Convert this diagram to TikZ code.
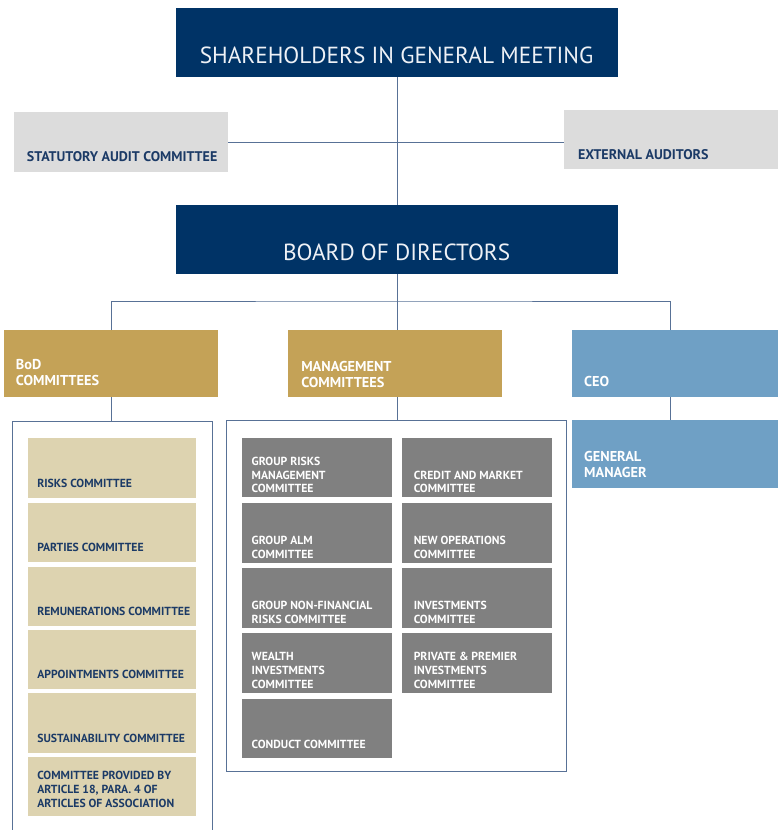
\documentclass[tikz,border=0pt]{standalone}
\usepackage{fontspec}
\setmainfont{PT Sans}
\definecolor{navy}{RGB}{0,51,102}
\definecolor{lgray}{RGB}{220,220,220}
\definecolor{gold}{RGB}{196,162,87}
\definecolor{sky}{RGB}{111,160,197}
\definecolor{beige}{RGB}{221,211,176}
\definecolor{dgray}{RGB}{128,128,128}
\definecolor{linec}{RGB}{88,113,150}
\definecolor{dtext}{RGB}{27,58,102}
\definecolor{wtext}{RGB}{238,241,246}
\tikzset{
  boxbase/.style={inner sep=0pt, outer sep=0pt, anchor=north west},
  titlebox/.style={boxbase, fill=navy},
  sidebox/.style={boxbase, fill=lgray},
  goldbox/.style={boxbase, fill=gold},
  skybox/.style={boxbase, fill=sky},
  beigebox/.style={boxbase, fill=beige},
  graybox/.style={boxbase, fill=dgray},
  conn/.style={draw=linec, line width=0.9pt},
  frame/.style={draw=linec, line width=0.9pt},
  lbl/.style={inner sep=0pt, outer sep=0pt, anchor=south west, text depth=0pt, align=left, font=\bfseries},
  titletxt/.style={inner sep=0pt, anchor=base, text=wtext, font=\fontsize{23.3}{27}\selectfont},
  sidetxt/.style={lbl, text=dtext, font=\bfseries\fontsize{14}{16}\selectfont},
  goldtxt/.style={lbl, text=white, font=\bfseries\fontsize{14.3}{16}\selectfont},
  beigetxt/.style={lbl, text=dtext, font=\bfseries\fontsize{11.7}{14}\selectfont},
  graytxt/.style={lbl, text=white, font=\bfseries\fontsize{11.7}{13.8}\selectfont},
}
\newcommand\bx[6]{%
  \pgfmathsetmacro\bxw{#4-#2}\pgfmathsetmacro\bxh{#5-#3}%
  \node[#6, minimum width=\bxw pt, minimum height=\bxh pt] (#1) at (#2,#3) {};}
\newcommand\tx[5]{\node[#2] (#1-t) at ([xshift=#3pt,yshift=#4pt]#1.south west) {#5};}
\begin{document}
\begin{tikzpicture}[x=1pt,y=-1pt]
\useasboundingbox (0,0) rectangle (777,830);
% top boxes
\bx{sh}{175.7}{7.5}{617.5}{77.3}{titlebox}
\node[titletxt] (sh-t) at ([yshift=14pt]sh.south) {SHAREHOLDERS IN GENERAL MEETING};
\bx{stat}{14}{112.3}{228.3}{171.7}{sidebox}
\tx{stat}{sidetxt}{13}{10}{STATUTORY AUDIT COMMITTEE}
\bx{ext}{563.5}{110}{790}{169.3}{sidebox}
\tx{ext}{sidetxt}{14.5}{9.5}{EXTERNAL AUDITORS}
\bx{board}{175.7}{204.5}{617.5}{274.3}{titlebox}
\node[titletxt] (board-t) at ([yshift=14pt]board.south) {BOARD OF DIRECTORS};
% second level
\bx{bod}{4}{330}{218.3}{397.3}{goldbox}
\tx{bod}{goldtxt}{12}{11.5}{BoD\\COMMITTEES}
\bx{mgmt}{288.3}{330}{502.3}{397.3}{goldbox}
\tx{mgmt}{goldtxt}{13}{10}{MANAGEMENT\\COMMITTEES}
\bx{ceo}{571.7}{330}{790}{397.3}{skybox}
\tx{ceo}{goldtxt}{12.5}{11}{CEO}
\bx{gm}{571.7}{420}{790}{487.7}{skybox}
\tx{gm}{goldtxt}{12.5}{10}{GENERAL\\MANAGER}
% containers
\coordinate (bodc) at (12,421);
\coordinate (bodc2) at (212,421);
\draw[frame] (12,832) -- (bodc) -- (bodc2) -- (212,832);
\node[boxbase, draw=linec, line width=0.9pt, minimum width=340pt, minimum height=351pt] (mgc) at (226.7,420.5) {};
% BoD committee boxes
\bx{b1}{28.3}{438.3}{195.7}{497.7}{beigebox}
\tx{b1}{beigetxt}{9}{10.5}{RISKS COMMITTEE}
\bx{b2}{28.3}{503}{195.7}{562.3}{beigebox}
\tx{b2}{beigetxt}{9}{10.5}{PARTIES COMMITTEE}
\bx{b3}{28.3}{567}{195.7}{626.3}{beigebox}
\tx{b3}{beigetxt}{9}{10.5}{REMUNERATIONS COMMITTEE}
\bx{b4}{28.3}{630}{195.7}{689.3}{beigebox}
\tx{b4}{beigetxt}{9}{10.5}{APPOINTMENTS COMMITTEE}
\bx{b5}{28.3}{693.3}{195.7}{753.3}{beigebox}
\tx{b5}{beigetxt}{9}{10.5}{SUSTAINABILITY COMMITTEE}
\bx{b6}{28.3}{756.7}{195.7}{816}{beigebox}
\tx{b6}{beigetxt}{9}{8.5}{COMMITTEE PROVIDED BY\\ARTICLE 18, PARA. 4 OF\\ARTICLES OF ASSOCIATION}
% management committee boxes
\bx{g1}{241.7}{438.3}{391.7}{497.3}{graybox}
\tx{g1}{graytxt}{10}{4.5}{GROUP RISKS\\MANAGEMENT\\COMMITTEE}
\bx{g2}{402.3}{438.3}{552.3}{497.3}{graybox}
\tx{g2}{graytxt}{11.5}{4.5}{CREDIT AND MARKET\\COMMITTEE}
\bx{g3}{241.7}{503.3}{391.7}{562.7}{graybox}
\tx{g3}{graytxt}{10}{4.5}{GROUP ALM\\COMMITTEE}
\bx{g4}{402.3}{503.3}{552.3}{562.7}{graybox}
\tx{g4}{graytxt}{11.5}{4.5}{NEW OPERATIONS\\COMMITTEE}
\bx{g5}{241.7}{568.3}{391.7}{627.7}{graybox}
\tx{g5}{graytxt}{10}{4.5}{GROUP NON-FINANCIAL\\RISKS COMMITTEE}
\bx{g6}{402.3}{568.3}{552.3}{627.7}{graybox}
\tx{g6}{graytxt}{11.5}{4.5}{INVESTMENTS\\COMMITTEE}
\bx{g7}{241.7}{633.3}{391.7}{692.7}{graybox}
\tx{g7}{graytxt}{10}{4.5}{WEALTH\\INVESTMENTS\\COMMITTEE}
\bx{g8}{402.3}{633.3}{552.3}{692.7}{graybox}
\tx{g8}{graytxt}{11.5}{4.5}{PRIVATE \& PREMIER\\INVESTMENTS\\COMMITTEE}
\bx{g9}{241.7}{699}{391.7}{758.3}{graybox}
\tx{g9}{graytxt}{10}{10}{CONDUCT COMMITTEE}
% connectors
\coordinate (br) at (397,301);
\coordinate (ceoj) at (670,330);
\draw[conn] (sh.south -| br) -- (board.north -| br);
\draw[conn] (stat.east) -- (ext.west |- stat.east);
\draw[conn] (board.south -| br) -- (mgmt.north -| br);
\draw[conn] (bod.north) |- (br) -| (ceoj);
\draw[conn] (ceoj |- ceo.south) -- (ceoj |- gm.north);
\draw[conn] (bod.south) -- (bod.south |- bodc);
\draw[conn] (mgmt.south -| br) -- (mgc.north -| br);
\end{tikzpicture}
\end{document}
